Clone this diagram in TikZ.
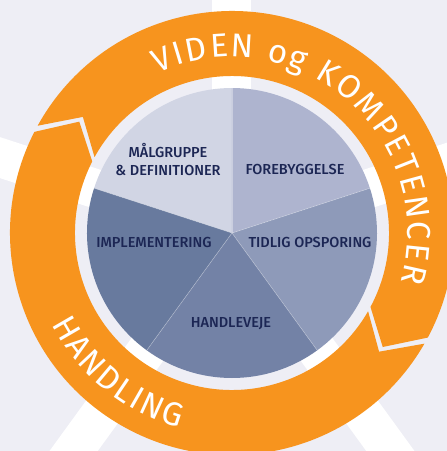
\documentclass[tikz,border=0pt]{standalone}
\usepackage{fontspec}
\setmainfont{Fira Sans}
\newfontfamily\labelfont{Fira Sans Medium}
\usetikzlibrary{decorations.text}
\definecolor{backdrop}{RGB}{238,238,245}
\definecolor{ringorange}{RGB}{247,148,30}
\definecolor{navy}{RGB}{28,38,84}
\definecolor{sliceA}{RGB}{209,213,228}
\definecolor{sliceB}{RGB}{174,180,207}
\definecolor{sliceC}{RGB}{142,154,185}
\definecolor{sliceD}{RGB}{115,130,166}
\definecolor{sliceE}{RGB}{104,122,158}

\begin{document}
\begin{tikzpicture}[
    ray/.style={white, line width=39pt},
    divider/.style={white, opacity=.35, line width=.6pt},
    slicetext/.style={text=navy, font=\labelfont\fontsize{14.5}{18}\selectfont,
                      align=center, inner sep=0pt},
    ringlabel/.style={decorate, decoration={text along path, text color=white,
                      text align={fit to path}}}
]
    \useasboundingbox (-232pt,-218pt) rectangle (215pt,233pt);
    \clip (-232pt,-218pt) rectangle (215pt,233pt);
    \fill[backdrop] (-232pt,-218pt) rectangle (215pt,233pt);

    % rays behind everything
    \foreach \a in {90,18,-54,-126,162}
        \draw[ray] (0,0) -- (\a:400pt);

    % VIDEN og KOMPETENCER arrow
    \fill[ringorange] (151.1:222pt) arc[start angle=151.1, end angle=-28.1, radius=222pt]
        -- (-37.1:189pt) -- (-28.1:157pt) arc[start angle=-28.1, end angle=151.1, radius=157pt]
        -- (142.1:189pt) -- cycle;
    % HANDLING arrow
    \fill[ringorange] (-29.9:222pt) arc[start angle=-29.9, end angle=-207.1, radius=222pt]
        -- (-216.1:189pt) -- (-207.1:157pt) arc[start angle=-207.1, end angle=-29.9, radius=157pt]
        -- (-38.9:189pt) -- cycle;

    \path[ringlabel, decoration={text={|\fontsize{33}{33}\selectfont|VIDEN og KOMPETENCER}}]
        (115:176pt) arc[start angle=115, end angle=-16, radius=176pt];
    \path[ringlabel, decoration={text={|\fontsize{33}{33}\selectfont|HANDLING}}]
        (207:202pt) arc[start angle=207, end angle=255, radius=202pt];

    % pie
    \foreach \a/\c in {90/sliceA, 18/sliceB, -54/sliceC, -126/sliceD, 162/sliceE}
        \fill[\c] (0,0) -- (\a:145pt) arc[start angle=\a, end angle=\a+72, radius=145pt] -- cycle;
    \foreach \a in {90,18,-54,-126,162}
        \draw[divider] (0,0) -- (\a:145pt);

    \node[slicetext] (maalgruppe) at (-64pt,73pt) {MÅLGRUPPE\\\& DEFINITIONER};
    \node[slicetext] (forebyggelse) at (63pt,64pt) {FOREBYGGELSE};
    \node[slicetext] (opsporing) at (78pt,-9pt) {TIDLIG OPSPORING};
    \node[slicetext] (implementering) at (-78pt,-9pt) {IMPLEMENTERING};
    \node[slicetext] (handleveje) at (-1pt,-91pt) {HANDLEVEJE};
\end{tikzpicture}
\end{document}
